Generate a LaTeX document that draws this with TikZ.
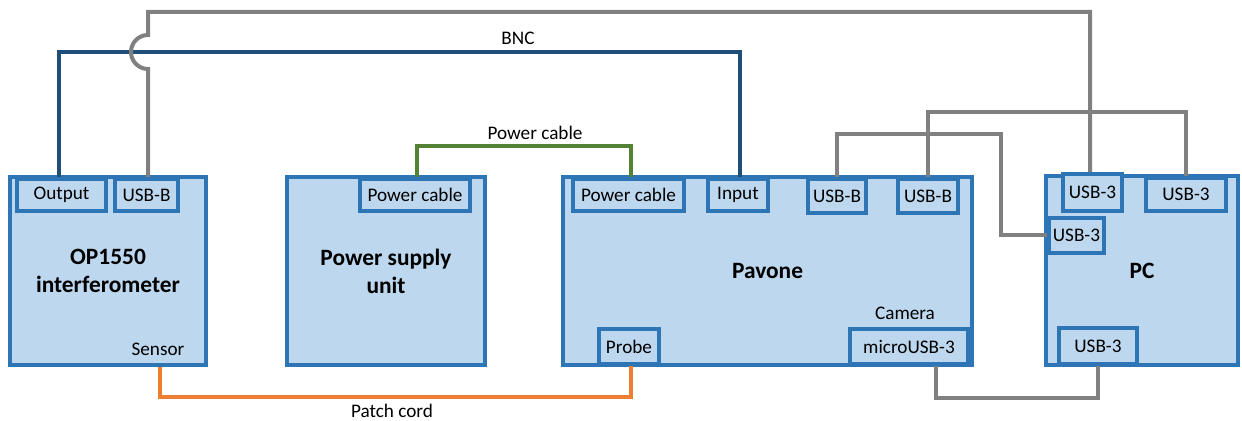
\documentclass[tikz,border=0pt]{standalone}
\usepackage{fontspec}
\setmainfont{Carlito}
\definecolor{boxblue}{HTML}{2E75B6}
\definecolor{boxfill}{HTML}{BDD7EE}
\definecolor{bncblue}{HTML}{1F4E79}
\definecolor{wiregray}{HTML}{808080}
\definecolor{pwrgreen}{HTML}{548235}
\definecolor{patchorange}{HTML}{ED7D31}
\begin{document}
\begin{tikzpicture}[x=0.5pt, y=-0.5pt,
        unit/.style={draw=boxblue, fill=boxfill, line width=2pt, inner sep=0pt,
            align=center, font=\fontsize{11.7}{14}\selectfont\bfseries},
        port/.style={draw=boxblue, fill=boxfill, line width=1.8pt, inner sep=0pt,
            font=\fontsize{9.6}{11}\selectfont},
        wire/.style={line width=2pt, wiregray},
        lbl/.style={font=\fontsize{9.6}{11}\selectfont}]
        \useasboundingbox (0,0) rectangle (1242,421);

        % ---- devices ----
        \node[unit, minimum width=98pt, minimum height=94pt] (op) at (108,271) {OP1550\\interferometer};
        \node[unit, minimum width=99pt, minimum height=94pt] (psu) at (386,271) {Power supply\\unit};
        \node[unit, minimum width=204.5pt, minimum height=94pt] (pv) at (767.5,271) {Pavone};
        \node[unit, minimum width=96pt, minimum height=94.5pt] (pc) at (1142,270.5) {PC};

        % ---- ports ----
        \node[port, minimum width=44.5pt, minimum height=16pt] (op-out) at (61.5,195) {Output};
        \node[port, minimum width=31.5pt, minimum height=16pt] (op-usb) at (146.5,195) {USB-B};
        \node[port, minimum width=55pt, minimum height=16pt] (psu-pwr) at (415,195) {Power cable};
        \node[port, minimum width=55.5pt, minimum height=16pt] (pv-pwr) at (628.5,195) {Power cable};
        \node[port, minimum width=30pt, minimum height=16pt] (pv-in) at (738,195) {Input};
        \node[port, minimum width=29pt, minimum height=17pt] (pv-usb1) at (837,196) {USB-B};
        \node[port, minimum width=30pt, minimum height=17pt] (pv-usb2) at (928,196) {USB-B};
        \node[port, minimum width=30pt, minimum height=17.5pt] (pv-probe) at (629,346.5) {Probe};
        \node[port, minimum width=59pt, minimum height=17.5pt] (pv-cam) at (909,346.5) {microUSB-3};
        \node[port, minimum width=29.5pt, minimum height=18.5pt] (pc-usb1) at (1092.5,192.5) {USB-3};
        \node[port, minimum width=40pt, minimum height=16.5pt] (pc-usb2) at (1186,194.5) {USB-3};
        \node[port, minimum width=27.5pt, minimum height=17.5pt] (pc-usb3) at (1076.5,235.5) {USB-3};
        \node[port, minimum width=39pt, minimum height=18pt] (pc-usb4) at (1098,346) {USB-3};

        % ---- texts inside the devices ----
        \node[lbl] (op-sensor) at (158,349) {Sensor};
        \node[lbl] (pv-camera) at (905,313) {Camera};

        % ---- BNC ----
        \draw[line width=2pt, bncblue] ([xshift=-1.5pt]op-out.north) -- ++(0,-125) -| ([xshift=1pt]pv-in.north);
        \node[lbl] (bnc-lbl) at (518,38) {BNC};

        % ---- USB (hops over the BNC line) ----
        \coordinate (hop-lo) at (0,69);
        \coordinate (top-y) at (0,12);
        \draw[wire] ([xshift=0.75pt]op-usb.north) -- ([xshift=0.75pt]op-usb.north |- hop-lo)
            arc[start angle=-90, end angle=-270, radius=8.5pt]
            -- ([xshift=0.75pt]op-usb.north |- top-y) -| ([xshift=-1.25pt]pc-usb1.north);
        \draw[wire] (pv-usb1.north) |- (1001,134) |- (pc-usb3.west);
        \draw[wire] (pv-usb2.north) -- ++(0,-65) -| (pc-usb2.north);
        \draw[wire] ([xshift=13.5pt]pv-cam.south) -- ++(0,32) -| (pc-usb4.south);

        % ---- power cable ----
        \draw[line width=2pt, pwrgreen] ([xshift=1pt]psu-pwr.north) -- ++(0,-31) -| ([xshift=1pt]pv-pwr.north);
        \node[lbl] (pwr-lbl) at (535,133) {Power cable};

        % ---- patch cord ----
        \draw[line width=2pt, patchorange] ([xshift=26pt]op.south) -- ++(0,30) -| ([xshift=1pt]pv-probe.south);
        \node[lbl] (patch-lbl) at (392,411) {Patch cord};
    \end{tikzpicture}
\end{document}
